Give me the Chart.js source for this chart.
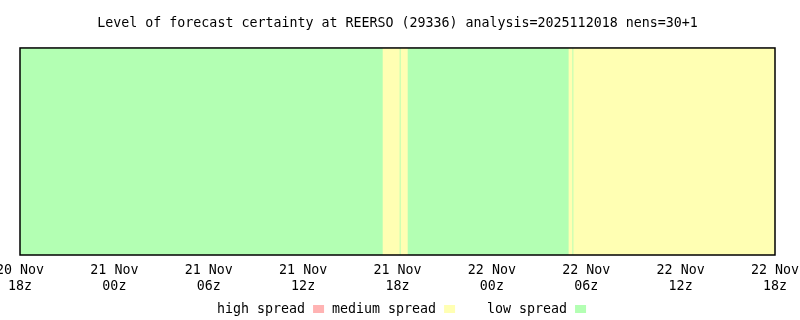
<!DOCTYPE html>
<html lang="en">
<head>
  <meta charset="UTF-8">
  <title>Level of forecast certainty at REERSO</title>
  <style>
    html, body { margin: 0; padding: 0; background: #fff; }
    #wrap { width: 800px; height: 320px; }
  </style>
</head>
<body>
  <div id="wrap"><canvas id="certainty-chart" width="800" height="320"></canvas></div>

  <script src="https://cdn.jsdelivr.net/npm/chart.js"></script>
  <script>
    // hours after 20 Nov 18z, spread level of each period
    const segStart = [0, 23.08, 24.16, 24.22, 24.67, 34.90, 35.14, 35.20];
    const segEnd   = [23.08, 24.16, 24.22, 24.67, 34.90, 35.14, 35.20, 48];
    const segLevel = ['low', 'medium', 'low', 'medium', 'low', 'medium', 'low', 'medium'];

    const tickDays  = ['20 Nov', '21 Nov', '21 Nov', '21 Nov', '21 Nov', '22 Nov', '22 Nov', '22 Nov', '22 Nov'];
    const tickHours = ['18z', '00z', '06z', '12z', '18z', '00z', '06z', '12z', '18z'];

    const levelNames  = ['high', 'medium', 'low'];
    const levelLabels = ['high spread', 'medium spread', 'low spread'];
    const levelColors = { high: '#ffb3b3', medium: '#ffffb3', low: '#b3ffb3' };

    const FONT = 'DejaVu Sans Mono';

    const frameAndLegend = {
      id: 'frameAndLegend',
      afterDraw(chart) {
        const { ctx, chartArea } = chart;
        ctx.save();
        ctx.strokeStyle = '#000';
        ctx.lineWidth = 1.5;
        ctx.strokeRect(chartArea.left, chartArea.top,
          chartArea.right - chartArea.left, chartArea.bottom - chartArea.top);

        // legend: text first, then a small colour box
        const starts = [217, 332, 487];
        ctx.font = '13.3px "' + FONT + '"';
        ctx.textBaseline = 'alphabetic';
        ctx.textAlign = 'left';
        levelNames.forEach((lvl, i) => {
          ctx.fillStyle = '#000';
          ctx.fillText(levelLabels[i], starts[i], 313);
          const w = ctx.measureText(levelLabels[i]).width;
          ctx.fillStyle = levelColors[lvl];
          ctx.fillRect(starts[i] + w + 8, 305, 11, 8);
        });
        ctx.restore();
      }
    };

    const points = segStart.map((s, i) => ({ x: [s, segEnd[i]], y: 'row' }));

    new Chart(document.getElementById('certainty-chart'), {
      type: 'bar',
      data: {
        labels: ['row'],
        datasets: [{
          data: points,
          backgroundColor: segLevel.map(l => levelColors[l]),
          borderWidth: 0,
          barPercentage: 1,
          categoryPercentage: 1
        }]
      },
      options: {
        indexAxis: 'y',
        responsive: false,
        animation: false,
        layout: { padding: { left: 20, right: 25, top: 0, bottom: 0 } },
        plugins: {
          legend: { display: false },
          tooltip: { enabled: false },
          title: {
            display: true,
            text: 'Level of forecast certainty at REERSO (29336) analysis=2025112018 nens=30+1',
            color: '#000',
            font: { family: FONT, size: 13.3, weight: 'normal', lineHeight: 1.2 },
            padding: { top: 16, bottom: 16 }
          }
        },
        scales: {
          x: {
            type: 'linear',
            min: 0,
            max: 48,
            grid: { display: false, drawTicks: false },
            border: { display: false },
            ticks: {
              stepSize: 6,
              autoSkip: false,
              maxRotation: 0,
              minRotation: 0,
              padding: 8,
              color: '#000',
              font: { family: FONT, size: 13.3, lineHeight: '16px' },
              callback: (v) => {
                const i = Math.round(v / 6);
                return [tickDays[i], tickHours[i]];
              }
            },
            afterFit: (scale) => {
              scale.height = 65;
              scale.paddingLeft = 0;
              scale.paddingRight = 0;
            }
          },
          y: {
            type: 'category',
            display: false,
            offset: true
          }
        }
      },
      plugins: [frameAndLegend]
    });
  </script>
</body>
</html>
